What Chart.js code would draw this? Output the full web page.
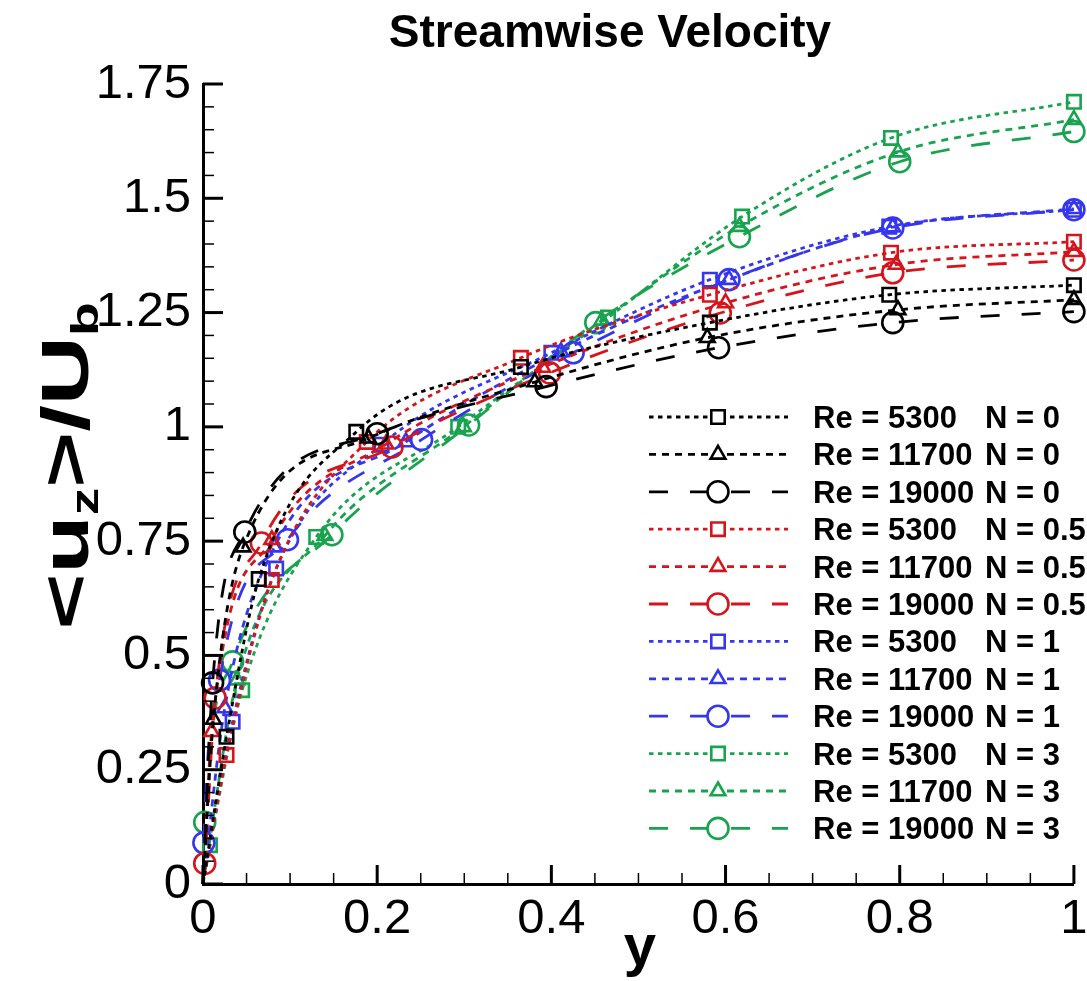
<!DOCTYPE html>
<html>
<head>
<meta charset="utf-8">
<title>Streamwise Velocity</title>
<script src="https://cdn.jsdelivr.net/npm/chart.js@4.4.1/dist/chart.umd.min.js"></script>
<style>
  html, body { margin: 0; padding: 0; background: #fff; }
  #wrap { width: 1087px; height: 981px; }
</style>
</head>
<body>
<div id="wrap"><canvas id="grafico"></canvas></div>
<script>
// wall distance y and mean streamwise velocity <u_z>/U_b
var y_Re5300_N0 = [0, 0.027, 0.064, 0.176, 0.365, 0.582, 0.788, 1.0];
var u_Re5300_N0 = [0, 0.322, 0.667, 0.989, 1.131, 1.228, 1.289, 1.31];
var y_Re11700_N0 = [0, 0.012, 0.046, 0.19, 0.381, 0.579, 0.798, 1.0];
var u_Re11700_N0 = [0, 0.36, 0.737, 0.975, 1.098, 1.195, 1.256, 1.278];
var y_Re19000_N0 = [0, 0.011, 0.048, 0.2, 0.394, 0.592, 0.792, 1.0];
var u_Re19000_N0 = [0, 0.44, 0.77, 0.985, 1.088, 1.173, 1.228, 1.252];

var y_Re5300_N05 = [0, 0.027, 0.079, 0.188, 0.365, 0.582, 0.79, 1.0];
var u_Re5300_N05 = [0, 0.282, 0.665, 0.967, 1.151, 1.289, 1.381, 1.405];
var y_Re11700_N05 = [0, 0.01, 0.079, 0.21, 0.39, 0.6, 0.796, 1.0];
var u_Re11700_N05 = [0, 0.333, 0.753, 0.962, 1.13, 1.271, 1.355, 1.383];
var y_Re19000_N05 = [0, 0.002, 0.014, 0.067, 0.217, 0.398, 0.594, 0.792, 1.0];
var u_Re19000_N05 = [0, 0.045, 0.407, 0.746, 0.956, 1.118, 1.249, 1.337, 1.365];

var y_Re5300_N1 = [0, 0.034, 0.084, 0.205, 0.4, 0.582, 0.788, 1.0];
var u_Re5300_N1 = [0, 0.355, 0.69, 0.961, 1.162, 1.322, 1.438, 1.475];
var y_Re11700_N1 = [0, 0.025, 0.082, 0.233, 0.411, 0.604, 0.792, 1.0];
var u_Re11700_N1 = [0, 0.385, 0.737, 0.967, 1.164, 1.322, 1.437, 1.477];
var y_Re19000_N1 = [0, 0.001, 0.019, 0.097, 0.251, 0.425, 0.604, 0.792, 1.0];
var u_Re19000_N1 = [0, 0.09, 0.446, 0.753, 0.972, 1.162, 1.322, 1.435, 1.475];

var y_Re5300_N3 = [0, 0.008, 0.045, 0.13, 0.293, 0.465, 0.619, 0.79, 1.0];
var u_Re5300_N3 = [0, 0.085, 0.424, 0.759, 1.0, 1.239, 1.46, 1.632, 1.711];
var y_Re11700_N3 = [0, 0.039, 0.14, 0.299, 0.458, 0.616, 0.798, 1.0];
var u_Re11700_N3 = [0, 0.446, 0.762, 1.0, 1.233, 1.438, 1.601, 1.672];
var y_Re19000_N3 = [0, 0.002, 0.034, 0.148, 0.305, 0.451, 0.616, 0.8, 1.0];
var u_Re19000_N3 = [0, 0.135, 0.486, 0.764, 1.004, 1.228, 1.416, 1.58, 1.646];

var valoresRe = ['5300', '11700', '19000'];
var valoresN = ['0', '0.5', '1', '3'];
var ticksX = [0, 0.2, 0.4, 0.6, 0.8, 1];
var ticksY = [0, 0.25, 0.5, 0.75, 1, 1.25, 1.5, 1.75];

var perfis = [
    [[y_Re5300_N0, u_Re5300_N0], [y_Re11700_N0, u_Re11700_N0], [y_Re19000_N0, u_Re19000_N0]],
    [[y_Re5300_N05, u_Re5300_N05], [y_Re11700_N05, u_Re11700_N05], [y_Re19000_N05, u_Re19000_N05]],
    [[y_Re5300_N1, u_Re5300_N1], [y_Re11700_N1, u_Re11700_N1], [y_Re19000_N1, u_Re19000_N1]],
    [[y_Re5300_N3, u_Re5300_N3], [y_Re11700_N3, u_Re11700_N3], [y_Re19000_N3, u_Re19000_N3]]
];

var coresN = ['#000000', '#d5141c', '#3636ee', '#18a34f'];
var marcadoresRe = ['rect', 'triangle', 'circle'];
var raiosRe = [9.5, 8.5, 10.5];
var tracosRe = [[4.5, 4.5], [7, 6], [19, 22]];

var fonte = "'Liberation Sans', Arial, sans-serif";

var datasets = [];
for (var n = 0; n < valoresN.length; n++) {
    for (var r = 0; r < valoresRe.length; r++) {
        var xs = perfis[n][r][0], us = perfis[n][r][1];
        var pontos = xs.map(function (x, i) { return { x: x, y: us[i] }; });
        datasets.push({
            label: 'Re = ' + valoresRe[r] + ' N = ' + valoresN[n],
            re: valoresRe[r],
            n: valoresN[n],
            data: pontos,
            borderColor: coresN[n],
            borderWidth: 2.8,
            borderDash: tracosRe[r],
            cubicInterpolationMode: 'monotone',
            pointStyle: marcadoresRe[r],
            pointRadius: (function (raio) {
                return function (c) { return c.dataIndex === 0 ? 0 : raio; };
            })(raiosRe[r]),
            pointBorderWidth: 2.6,
            pointBorderColor: coresN[n],
            pointBackgroundColor: 'rgba(255,255,255,0)',
            clip: false,
            fill: false
        });
    }
}

var formatar = function (v) { return String(Math.round(v * 100) / 100); };

// marcas de escala para dentro, maiores e menores
var marcasEscala = {
    id: 'marcasEscala',
    afterDraw: function (chart) {
        var ctx = chart.ctx, a = chart.chartArea;
        var sx = chart.scales.x, sy = chart.scales.y;
        ctx.save();
        ctx.strokeStyle = '#000';
        for (var k = 0; k <= 20; k++) {
            var px = sx.getPixelForValue(k * 0.05);
            var maior = k % 4 === 0;
            ctx.lineWidth = maior ? 3 : 1.5;
            ctx.beginPath();
            ctx.moveTo(px, a.bottom);
            ctx.lineTo(px, a.bottom - (maior ? 19 : 11));
            ctx.stroke();
        }
        for (k = 0; k <= 35; k++) {
            var py = sy.getPixelForValue(k * 0.05);
            maior = k % 5 === 0;
            ctx.lineWidth = maior ? 3 : 1.5;
            ctx.beginPath();
            ctx.moveTo(a.left, py);
            ctx.lineTo(a.left + (maior ? 20 : 11), py);
            ctx.stroke();
        }
        ctx.restore();
    }
};

// titulo, titulos dos eixos e legenda no estilo do Tecplot
var textos = {
    id: 'textos',
    afterDraw: function (chart) {
        var ctx = chart.ctx;
        ctx.save();
        ctx.fillStyle = '#000';
        ctx.textBaseline = 'alphabetic';

        ctx.font = "bold 46px " + fonte;
        ctx.textAlign = 'center';
        ctx.fillText('Streamwise Velocity', 610, 47);

        ctx.font = "bold 58px " + fonte;
        ctx.fillText('y', 640, 965);

        // eixo y: <u_z>/U_b
        var grande = "bold 66px " + fonte, pequeno = "bold 38px " + fonte;
        var partes = [['<u', grande, 0], ['z', pequeno, 10], ['>/U', grande, 0], ['b', pequeno, 10]];
        var total = 0;
        partes.forEach(function (p) { ctx.font = p[1]; p.push(ctx.measureText(p[0]).width); total += p[3]; });
        ctx.translate(88, 466);
        ctx.rotate(-Math.PI / 2);
        ctx.scale(1.45, 1);
        ctx.textAlign = 'left';
        var pos = -total / 2;
        partes.forEach(function (p) {
            ctx.font = p[1];
            ctx.fillText(p[0], pos, p[2]);
            pos += p[3];
        });
        ctx.setTransform(1, 0, 0, 1, 0, 0);

        // legenda
        chart.data.datasets.forEach(function (ds, i) {
            var cy = 417 + i * 37.4;
            var r = marcadoresRe.indexOf(ds.pointStyle);
            ctx.strokeStyle = ds.borderColor;
            ctx.lineWidth = 2.8;
            ctx.setLineDash(ds.borderDash);
            ctx.beginPath();
            ctx.moveTo(649, cy);
            ctx.lineTo(788, cy);
            ctx.stroke();
            ctx.setLineDash([]);
            ctx.fillStyle = '#fff';
            ctx.lineWidth = 2.6;
            Chart.helpers.drawPoint(ctx, {
                pointStyle: ds.pointStyle,
                radius: raiosRe[r],
                rotation: 0,
                borderWidth: 2.6
            }, 718, cy);
            ctx.fillStyle = '#000';
            ctx.font = "bold 31px " + fonte;
            ctx.textAlign = 'left';
            ctx.fillText('Re = ' + ds.re, 813, cy + 11);
            ctx.fillText('N = ' + ds.n, 985, cy + 11);
        });
        ctx.restore();
    }
};

new Chart(document.getElementById('grafico'), {
    type: 'line',
    data: { datasets: datasets },
    options: {
        responsive: true,
        maintainAspectRatio: false,
        animation: false,
        layout: { padding: { top: 84, right: 8, bottom: 0, left: 0 } },
        plugins: {
            legend: { display: false },
            title: { display: false },
            tooltip: { enabled: false }
        },
        scales: {
            x: {
                type: 'linear',
                min: 0,
                max: 1,
                afterBuildTicks: function (s) { s.ticks = ticksX.map(function (v) { return { value: v }; }); },
                grid: { display: false, drawTicks: false },
                border: { display: true, color: '#000', width: 3 },
                ticks: {
                    color: '#000',
                    padding: 6,
                    maxRotation: 0,
                    autoSkip: false,
                    font: { family: fonte, size: 49 },
                    callback: formatar
                },
                afterFit: function (s) { s.height = 97; s.paddingLeft = 0; s.paddingRight = 0; }
            },
            y: {
                type: 'linear',
                min: 0,
                max: 1.75,
                afterBuildTicks: function (s) { s.ticks = ticksY.map(function (v) { return { value: v }; }); },
                grid: { display: false, drawTicks: false },
                border: { display: true, color: '#000', width: 3 },
                ticks: {
                    color: '#000',
                    padding: 12,
                    autoSkip: false,
                    font: { family: fonte, size: 49 },
                    callback: formatar
                },
                afterFit: function (s) { s.width = 203; s.paddingTop = 0; s.paddingBottom = 0; }
            }
        }
    },
    plugins: [marcasEscala, textos]
});
</script>
</body>
</html>
